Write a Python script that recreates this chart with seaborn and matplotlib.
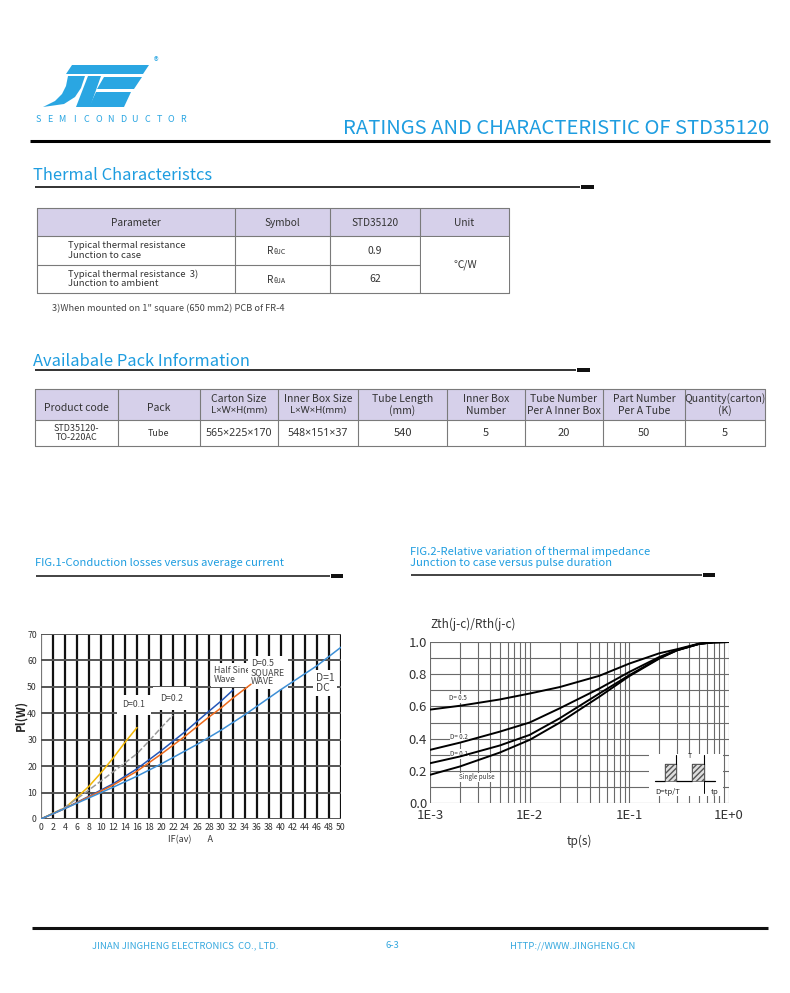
import numpy as np
import pandas as pd
import matplotlib
matplotlib.use("Agg")
import matplotlib.pyplot as plt
from matplotlib.patches import Polygon, Rectangle
import seaborn as sns

# ---------------- data ----------------
title = "RATINGS AND CHARACTERISTIC OF STD35120"
t1_header = ["Parameter", "Symbol", "STD35120", "Unit"]
t1_params = ["Typical thermal resistance\nJunction to case",
             "Typical thermal resistance  3)\nJunction to ambient"]
t1_symbols = ["θJC", "θJA"]
t1_values = ["0.9", "62"]
t1_unit = "℃/W"

t2_header = ["Product code", "Pack", "Carton Size\nL×W×H(mm)", "Inner Box Size\nL×W×H(mm)",
             "Tube Length\n(mm)", "Inner Box\nNumber", "Tube Number\nPer A Inner Box",
             "Part Number\nPer A Tube", "Quantity(carton)\n(K)"]
t2_row = ["STD35120-\nTO-220AC", "Tube", "565×225×170", "548×151×37", "540", "5", "20", "50", "5"]

# FIG.1 conduction losses
d01_x = [0, 2, 4, 6, 8, 10, 12, 14, 16]
d01_y = [0, 2.2, 4.2, 8.2, 12.4, 17.5, 23.0, 29.0, 34.6]
d02_x = [0, 2, 4, 8, 12, 16, 18, 20, 22]
d02_y = [0, 2.1, 4.4, 11.0, 17.8, 24.7, 29.5, 34.5, 39.3]
hs_x = [0, 2, 4, 8, 12, 16, 20, 24, 28, 30, 32]
hs_y = [0, 2.0, 4.0, 8.6, 13.3, 19.0, 25.8, 33.0, 40.8, 44.6, 48.8]
sq_x = [0, 2, 4, 8, 12, 16, 20, 24, 28, 30, 32, 35]
sq_y = [0, 2.0, 4.0, 8.4, 12.8, 18.1, 24.5, 31.3, 38.6, 42.0, 45.8, 51.0]
dc_x = [0, 2, 4, 8, 12, 16, 20, 26, 30, 34, 40, 46, 50]
dc_y = [0, 2.0, 4.0, 8.0, 12.0, 16.2, 20.8, 28.2, 33.6, 39.5, 49.0, 58.0, 65.0]

# FIG.2 thermal impedance
tp = [1e-3, 2e-3, 5e-3, 1e-2, 2e-2, 5e-2, 1e-1, 2e-1, 3e-1, 5e-1, 7e-1, 1.0]
z05 = [0.580, 0.604, 0.643, 0.680, 0.720, 0.790, 0.866, 0.930, 0.955, 0.990, 0.998, 1.0]
z02 = [0.330, 0.375, 0.443, 0.500, 0.588, 0.711, 0.814, 0.907, 0.950, 0.988, 0.998, 1.0]
z01 = [0.247, 0.289, 0.357, 0.423, 0.526, 0.680, 0.794, 0.900, 0.948, 0.988, 0.998, 1.0]
zsp = [0.175, 0.227, 0.313, 0.392, 0.499, 0.660, 0.788, 0.897, 0.948, 0.988, 0.998, 1.0]

# ---------------- style ----------------
sns.set_style("white")
plt.rcParams['font.family'] = ['Noto Sans CJK SC', 'DejaVu Sans']
NARROW = ['Noto Sans', 'DejaVu Sans']

BLUE = "#1E9DE0"
W, H = 790, 993
fig = plt.figure(figsize=(W / 100, H / 100), dpi=100)

def pax(x0, y0, x1, y1):
    return fig.add_axes([x0 / W, 1 - y1 / H, (x1 - x0) / W, (y1 - y0) / H])

page = fig.add_axes([0, 0, 1, 1])
page.set_xlim(0, W)
page.set_ylim(H, 0)
page.axis("off")

# ---------------- logo ----------------
LOGO = "#2AA6E2"
shapes = [
    [(72, 65), (149, 65), (143, 74), (66, 74)],
    [(68, 76), (85, 76), (81, 88), (75, 97), (64, 104), (43, 107), (55, 101), (62, 94), (66, 86)],
    [(88, 76), (101, 76), (90, 107), (76, 107)],
    [(104, 77), (142, 77), (134, 89), (97, 89)],
    [(96, 92), (131, 92), (124, 107), (89, 107)],
]
for s in shapes:
    page.add_patch(Polygon(s, closed=True, facecolor=LOGO, edgecolor="none"))
page.text(156, 62, "®", color=LOGO, fontsize=7, ha="center", va="center")
for i, ch in enumerate("SEMICONDUCTOR"):
    page.text(38 + i * 12.1, 120, ch, color=LOGO, fontsize=6.5, ha="center", va="center")

# ---------------- title ----------------
page.text(769, 128, title, color=BLUE, fontsize=14.6, ha="right", va="center")
page.plot([30, 770], [141, 141], color="black", lw=2.2, solid_capstyle="butt")

def section(x, y, text, x1, yline, fs=11.9):
    page.text(x, y, text, color=BLUE, fontsize=fs, ha="left", va="center")
    page.plot([x + 2, x1], [yline, yline], color="#222", lw=1.3, solid_capstyle="butt")
    page.add_patch(Rectangle((x1 + 1, yline - 2), 13, 3.5, facecolor="#111", edgecolor="none"))

section(33, 176, "Thermal Characteristcs", 580, 187)
section(33, 361, "Availabale Pack Information", 576, 370)

# ---------------- table 1 ----------------
HDR = "#D6D0EA"
LC = "#7a7a7a"
cx = [37, 235, 330, 420, 509]
ry = [208, 236, 265, 293]
page.add_patch(Rectangle((cx[0], ry[0]), cx[-1] - cx[0], ry[1] - ry[0], facecolor=HDR, edgecolor="none"))
for x in cx:
    page.plot([x, x], [ry[0], ry[-1]], color=LC, lw=0.8)
for y in ry:
    page.plot([cx[0], cx[-1]], [y, y], color=LC, lw=0.8)
page.add_patch(Rectangle((cx[3] + 0.5, ry[1] + 1), cx[4] - cx[3] - 1, ry[3] - ry[1] - 2,
                         facecolor="white", edgecolor="none", zorder=3))
for i, h in enumerate(t1_header):
    page.text((cx[i] + cx[i + 1]) / 2, 223, h, fontsize=7.3, ha="center", va="center", color="#333")
for r in range(2):
    yc = (ry[r + 1] + ry[r + 2]) / 2
    page.text(68, yc, t1_params[r], fontsize=6.9, ha="left", va="center", color="#333", linespacing=1.05)
    page.text(267, yc + 1, "R", fontsize=7.2, ha="left", va="center", color="#333")
    page.text(273, yc + 2, t1_symbols[r], fontsize=5, ha="left", va="center", color="#333")
    page.text(375, yc, t1_values[r], fontsize=7.5, ha="center", va="center", color="#333")
page.text(465, 265, t1_unit, fontsize=7.5, ha="center", va="center", color="#333", zorder=4)
page.text(52, 308, '3)When mounted on 1" square (650 mm2) PCB of FR-4', fontsize=6.7,
          ha="left", va="center", color="#444")

# ---------------- table 2 ----------------
cx2 = [35, 118, 200, 278, 358, 447, 525, 603, 685, 765]
ry2 = [389, 420, 446]
page.add_patch(Rectangle((cx2[0], ry2[0]), cx2[-1] - cx2[0], ry2[1] - ry2[0], facecolor=HDR, edgecolor="none"))
for x in cx2:
    page.plot([x, x], [ry2[0], ry2[-1]], color=LC, lw=0.8)
for y in ry2:
    page.plot([cx2[0], cx2[-1]], [y, y], color=LC, lw=0.8)
for i, h in enumerate(t2_header):
    xc = (cx2[i] + cx2[i + 1]) / 2
    if "\n" not in h:
        page.text(xc, 408, h, fontsize=7.5, ha="center", va="center", color="#333")
    else:
        l1, l2 = h.split("\n")
        page.text(xc, 399, l1, fontsize=7.5, ha="center", va="center", color="#333")
        fam = NARROW if "×" in l2 else None
        page.text(xc, 411, l2, fontsize=7.5 if fam is None else 7.0, ha="center", va="center",
                  color="#333", family=fam)
for i, v in enumerate(t2_row):
    xc = (cx2[i] + cx2[i + 1]) / 2
    if "×" in v:
        page.text(xc, 434, v, fontsize=7.6, ha="center", va="center", color="#333", family=NARROW)
    else:
        fs = 6.5 if i in (0, 1) else 8
        page.text(xc, 433, v, fontsize=fs, ha="center", va="center", color="#333", linespacing=0.95)

# ---------------- figure titles ----------------
page.text(35, 563, "FIG.1-Conduction losses versus average current", color=BLUE,
          fontsize=8.05, ha="left", va="center")
page.plot([36, 330], [576, 576], color="#222", lw=1.2, solid_capstyle="butt")
page.add_patch(Rectangle((331, 574), 12, 3.5, facecolor="#111", edgecolor="none"))
page.text(410, 557, "FIG.2-Relative variation of thermal impedance\nJunction to case versus pulse duration",
          color=BLUE, fontsize=8.05, ha="left", va="center", linespacing=1.05)
page.plot([411, 702], [575, 575], color="#222", lw=1.2, solid_capstyle="butt")
page.add_patch(Rectangle((703, 573), 12, 3.5, facecolor="#111", edgecolor="none"))

# ---------------- FIG.1 ----------------
ax1 = pax(41, 634, 341, 819)
df1 = pd.concat([
    pd.DataFrame({"IF": d01_x, "P": d01_y, "s": "D=0.1"}),
    pd.DataFrame({"IF": d02_x, "P": d02_y, "s": "D=0.2"}),
    pd.DataFrame({"IF": hs_x, "P": hs_y, "s": "Half Sine"}),
    pd.DataFrame({"IF": sq_x, "P": sq_y, "s": "D=0.5"}),
    pd.DataFrame({"IF": dc_x, "P": dc_y, "s": "DC"}),
])
pal1 = {"D=0.1": "#F2B705", "D=0.2": "#9A9A9A", "Half Sine": "#2456B8",
        "D=0.5": "#EE6A1C", "DC": "#3D8FD6"}
dash1 = {"D=0.1": "", "D=0.2": (4, 1.5), "Half Sine": "", "D=0.5": "", "DC": ""}
ax1.set_xlim(0, 50)
ax1.set_ylim(0, 70)
for x in range(2, 51, 2):
    ax1.axvline(x, color="#111", lw=1.6, zorder=1)
ax1.axvline(0, color="#777", lw=1.6, zorder=1)
for y in range(0, 71, 10):
    ax1.axhline(y, color="#555", lw=1.4, zorder=1)
sns.lineplot(data=df1, x="IF", y="P", hue="s", style="s", palette=pal1, dashes=dash1,
             legend=False, ax=ax1, lw=1.1, sort=False, zorder=5)
for sp in ax1.spines.values():
    sp.set_visible(False)
ax1.set_xticks(range(0, 51, 2))
ax1.set_yticks(range(0, 71, 10))
ax1.tick_params(length=0, labelsize=6.3, colors="#333", pad=3)
ax1.set_xlabel("IF(av)        A", fontsize=6.5, color="#333", labelpad=2)
ax1.set_ylabel("")
page.text(21, 715, "Pl(W)", rotation=90, fontsize=8.5, fontweight="bold", ha="center", va="center")
bb = dict(facecolor="white", edgecolor="none", pad=2)
ax1.text(15.5, 43.2, "D=0.1", fontsize=6.3, ha="center", va="center", color="#444",
         bbox=dict(facecolor="white", edgecolor="none", pad=4), zorder=3)
ax1.text(21.7, 45.5, "D=0.2", fontsize=6.3, ha="center", va="center", color="#444",
         bbox=dict(facecolor="white", edgecolor="none", pad=5), zorder=3)
ax1.text(28.8, 54.5, "Half Sine\nWave", fontsize=6.3, ha="left", va="center", color="#444",
         bbox=bb, zorder=3, linespacing=1.1)
ax1.text(35.0, 55.4, "D=0.5\nSQUARE\nWAVE", fontsize=6.3, ha="left", va="center", color="#444",
         bbox=bb, zorder=3, linespacing=1.0)
ax1.text(45.8, 51.5, "D=1\nDC", fontsize=7.5, ha="left", va="center", color="#444",
         bbox=bb, zorder=3, linespacing=1.0)

# ---------------- FIG.2 ----------------
ax2 = pax(430, 642, 729, 803)
df2 = pd.concat([
    pd.DataFrame({"tp": tp, "Z": z05, "s": "D=0.5"}),
    pd.DataFrame({"tp": tp, "Z": z02, "s": "D=0.2"}),
    pd.DataFrame({"tp": tp, "Z": z01, "s": "D=0.1"}),
    pd.DataFrame({"tp": tp, "Z": zsp, "s": "Single"}),
])
ax2.set_xscale("log")
ax2.set_xlim(1e-3, 1.0)
ax2.set_ylim(0, 1.0)
GC = "#6a6a6a"
for dec in [1e-3, 1e-2, 1e-1]:
    for m in range(1, 10):
        ax2.axvline(dec * m, color=GC, lw=0.8, zorder=1)
ax2.axvline(1.0, color=GC, lw=0.8, zorder=1)
for y in np.arange(0, 1.01, 0.1):
    ax2.axhline(y, color=GC, lw=0.8, zorder=1)
sns.lineplot(data=df2, x="tp", y="Z", hue="s",
             palette={k: "black" for k in ["D=0.5", "D=0.2", "D=0.1", "Single"]},
             legend=False, ax=ax2, lw=1.4, zorder=5)
for sp in ax2.spines.values():
    sp.set_visible(False)
ax2.set_xticks([1e-3, 1e-2, 1e-1, 1.0])
ax2.set_xticklabels(["1E-3", "1E-2", "1E-1", "1E+0"])
ax2.xaxis.set_minor_locator(matplotlib.ticker.NullLocator())
ax2.set_yticks(np.arange(0, 1.01, 0.2))
ax2.set_yticklabels([f"{v:.1f}" for v in np.arange(0, 1.01, 0.2)])
ax2.tick_params(axis="y", length=0, labelsize=9.5, colors="#333", pad=2)
ax2.tick_params(axis="x", length=0, labelsize=9.5, colors="#333", pad=4.5)
ax2.set_xlabel("tp(s)", fontsize=8.5, color="#333", labelpad=9)
ax2.set_ylabel("")
page.text(430, 624, "Zth(j-c)/Rth(j-c)", fontsize=8.5, ha="left", va="center", color="#333")
lb = dict(facecolor="white", edgecolor="none", pad=0.5)
ax2.text(1.55e-3, 0.65, "D= 0.5", fontsize=4.5, ha="left", va="center", color="#333", bbox=lb, zorder=3)
ax2.text(1.6e-3, 0.408, "D= 0.2", fontsize=4.5, ha="left", va="center", color="#333", bbox=lb, zorder=3)
ax2.text(1.6e-3, 0.305, "D= 0.1", fontsize=4.5, ha="left", va="center", color="#333", bbox=lb, zorder=3)
ax2.text(1.95e-3, 0.16, "Single pulse", fontsize=4.5, ha="left", va="center", color="#333", bbox=lb, zorder=3)

# inset pulse diagram (axes fraction)
T = ax2.transAxes
ax2.add_patch(Rectangle((0.733, 0.041), 0.247, 0.264, transform=T, facecolor="white",
                        edgecolor="none", zorder=3))
ax2.plot([0.751, 0.785, 0.785, 0.824, 0.824, 0.877, 0.877, 0.916, 0.916, 0.952],
         [0.134, 0.134, 0.241, 0.241, 0.134, 0.134, 0.241, 0.241, 0.134, 0.134],
         transform=T, color="black", lw=0.9, zorder=4)
for x0 in (0.785, 0.877):
    ax2.add_patch(Rectangle((x0, 0.134), 0.039, 0.107, transform=T, facecolor="#dddddd",
                            edgecolor="#555", hatch="//////", lw=0.5, zorder=4))
ax2.plot([0.824, 0.824], [0.241, 0.3], transform=T, color="black", lw=0.8, zorder=4)
ax2.plot([0.916, 0.916], [0.241, 0.3], transform=T, color="black", lw=0.8, zorder=4)
ax2.annotate("", xy=(0.826, 0.272), xytext=(0.914, 0.272), xycoords=T, textcoords=T,
             arrowprops=dict(arrowstyle="<->", lw=0.7, shrinkA=0, shrinkB=0), zorder=4)
ax2.text(0.868, 0.29, "T", transform=T, fontsize=5, ha="center", va="center", zorder=4)
ax2.text(0.755, 0.066, "D=tp/T", transform=T, fontsize=5.5, ha="left", va="center", zorder=4)
ax2.annotate("", xy=(0.916, 0.082), xytext=(0.872, 0.082), xycoords=T, textcoords=T,
             arrowprops=dict(arrowstyle="->", lw=0.7, shrinkA=0, shrinkB=0), zorder=4)
ax2.plot([0.916, 0.916], [0.06, 0.134], transform=T, color="black", lw=0.7, zorder=4)
ax2.text(0.94, 0.066, "tp", transform=T, fontsize=5.5, ha="left", va="center", zorder=4)

# ---------------- footer ----------------
page.plot([32, 768], [928, 928], color="#111", lw=2.2, solid_capstyle="butt")
FB = "#35A8DF"
page.text(92, 946, "JINAN JINGHENG ELECTRONICS  CO., LTD.", color=FB, fontsize=6.8, ha="left", va="center")
page.text(392, 945, "6-3", color=FB, fontsize=6.8, ha="center", va="center")
page.text(510, 946, "HTTP://WWW.JINGHENG.CN", color=FB, fontsize=6.8, ha="left", va="center")

fig.savefig("out.png", dpi=100)
